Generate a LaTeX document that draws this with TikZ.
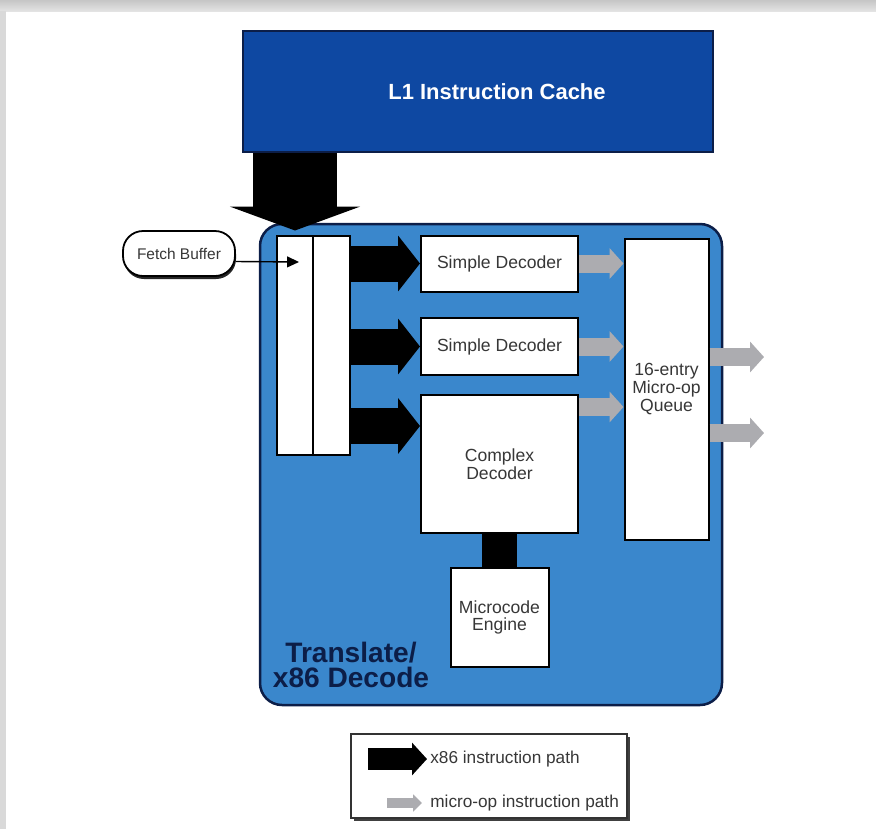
\documentclass[tikz,border=0pt]{standalone}
\usepackage{fontspec}
\setmainfont{Liberation Sans}
\usetikzlibrary{positioning,arrows.meta,shadows}
\newlength\pxu
\setlength\pxu{0.02cm}
\definecolor{cacheblue}{RGB}{14,72,162}
\definecolor{decblue}{RGB}{58,135,204}
\definecolor{navy}{RGB}{12,30,72}
\definecolor{uopgray}{RGB}{172,172,176}
\definecolor{txtgray}{RGB}{55,55,55}
\tikzset{
  blk/.style={draw=black,fill=white,line width=2\pxu,inner sep=0pt,text=txtgray,
    font=\fontsize{10}{10}\selectfont,align=center},
  xpath/.style={line width=36\pxu,-{Triangle[length=12.5pt,width=31.2pt]}},   % x86 instruction path
  upath/.style={line width=18\pxu,uopgray,-{Triangle[length=7.9pt,width=17pt]}}, % micro-op path
  legtxt/.style={text=txtgray,font=\fontsize{9.8}{10}\selectfont,inner sep=0pt},
}

\begin{document}
\begin{tikzpicture}[x=0.02cm,y=-0.02cm]
  \useasboundingbox (0,0) rectangle (876,829);
  % page frame
  \fill[white] (0,0) rectangle (876,829);
  \shade[top color=gray!45,bottom color=gray!22] (0,0) rectangle (876,11);
  \fill[gray!30] (0,11) rectangle (6,829);
  % cache and decode block
  \node[draw=navy,line width=2\pxu,fill=cacheblue,minimum width=470\pxu,minimum height=121\pxu]
    (cache) at (478,91.5) {};
  \node[text=white,font=\bfseries\fontsize{12.5}{13}\selectfont] (cachelbl)
    at ([xshift=19\pxu]cache.center) {L1 Instruction Cache};
  \node[draw=navy,line width=2.5\pxu,fill=decblue,rounded corners=22\pxu,
    minimum width=462\pxu,minimum height=481\pxu] (xlate) at (491,464.5) {};
  \node[text=navy,font=\bfseries\fontsize{16}{14.5}\selectfont,align=center] (xlatelbl)
    at (351,665) {Translate/\\x86 Decode};
  % fetch buffer
  \node[draw=black,fill=white,line width=1.8\pxu,rounded corners=20\pxu,minimum width=112\pxu,
    minimum height=45\pxu,text=txtgray,font=\fontsize{8.8}{9}\selectfont,
    drop shadow={shadow xshift=1\pxu,shadow yshift=-3\pxu,fill=black!85,opacity=1}]
    (fetch) at (179,253.5) {Fetch Buffer};
  \node[blk,minimum width=36\pxu,minimum height=219\pxu] (buf1) at (295,345) {};
  \node[blk,minimum width=37\pxu,minimum height=219\pxu] (buf2) at (331.5,345) {};
  % decoders
  \node[blk,minimum width=157\pxu,minimum height=56\pxu] (sd1) at (499.5,263.5) {Simple Decoder};
  \node[blk,minimum width=157\pxu,minimum height=57\pxu] (sd2) at (499.5,346.5) {Simple Decoder};
  \node[blk,minimum width=157\pxu,minimum height=138\pxu] (cd) at (499.5,464) {Complex\\Decoder};
  \node[blk,minimum width=98\pxu,minimum height=99\pxu] (mce) at (499.5,617.5) {Microcode\\Engine};
  \node[blk,minimum width=84\pxu,minimum height=301\pxu] (queue) at (666.5,389)
    {16-entry\\Micro-op\\Queue};
  % connectors
  \draw[line width=84\pxu,-{Triangle[length=13.6pt,width=73.7pt]}]
    (cache.south -| buf1.north) -- ([yshift=4\pxu]buf1.north);
  \coordinate (fetchin) at (299,262);
  \draw[line width=1.4\pxu,-{Triangle[length=6.8pt,width=6.2pt]}]
    ([yshift=-8\pxu]fetch.east) -- (fetchin);
  \coordinate (cdin) at ([yshift=-32\pxu]cd.north west);
  \draw[xpath] (buf2.east |- sd1.west) -- (sd1.west);
  \draw[xpath] (buf2.east |- sd2.west) -- (sd2.west);
  \draw[xpath] (buf2.east |- cdin) -- (cdin);
  \draw[line width=35\pxu] (cd.south) -- (mce.north);
  \coordinate (cdout) at ([yshift=-13\pxu]cd.north east);
  \draw[upath] (sd1.east) -- (sd1.east -| queue.west);
  \draw[upath] (sd2.east) -- (sd2.east -| queue.west);
  \draw[upath] (cdout) -- (cdout -| queue.west);
  \coordinate (out1) at (764,357);
  \coordinate (out2) at (764,433);
  \draw[upath] (queue.east |- out1) -- (out1);
  \draw[upath] (queue.east |- out2) -- (out2);
  % legend
  \node[draw=black!80,fill=white,line width=1.5\pxu,minimum width=276\pxu,minimum height=84\pxu,
    drop shadow={shadow xshift=3\pxu,shadow yshift=-3\pxu,fill=black!75,opacity=1}]
    (legend) at (489,776) {};
  \coordinate (legx0) at (368,759);
  \coordinate (legx1) at (427,759);
  \draw[line width=22\pxu,-{Triangle[length=8.5pt,width=18.1pt]}] (legx0) -- (legx1);
  \node[legtxt,anchor=west] (legxtxt) at (430,759) {x86 instruction path};
  \coordinate (legu0) at (387,803);
  \coordinate (legu1) at (422,803);
  \draw[uopgray,line width=10\pxu,-{Triangle[length=5.1pt,width=9.6pt]}] (legu0) -- (legu1);
  \node[legtxt,anchor=west] (legutxt) at (430,803) {micro-op instruction path};
\end{tikzpicture}
\end{document}
